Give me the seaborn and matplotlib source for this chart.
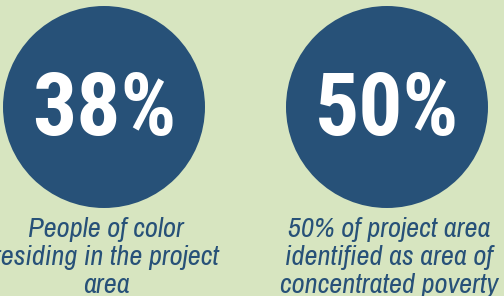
import seaborn as sns
import matplotlib.pyplot as plt
import pandas as pd

# values shown in the two circles
categories = ['people_of_color', 'concentrated_poverty']
values = [38, 50]
captions = ['People of color\nresiding in the project\narea',
            '50% of project area\nidentified as area of\nconcentrated poverty']

BG = '#d7e5c0'
BLUE = '#275178'

sns.set_style('white')
plt.rcParams['font.family'] = ['Archivo Narrow', 'Roboto Condensed', 'DejaVu Sans']

data = pd.DataFrame({'cat': categories, 'value': values, 'caption': captions})
data['x'] = range(len(data))
data['y'] = 0

fig = plt.figure(figsize=(5.04, 2.96), dpi=100, facecolor=BG)
ax = fig.add_axes([0, 0, 1, 1])
ax.set_facecolor(BG)

sns.scatterplot(data=data, x='x', y='y', s=(202 * 0.72) ** 2, color=BLUE,
                edgecolor='none', legend=False, ax=ax)

# index 0 -> 104 px, index 1 -> 387 px; y = 107 - pixel row
step = 283
ax.set_xlim(-104 / step, 1 + (504 - 387) / step)
ax.set_ylim(-(296 - 107), 107)

for _, row in data.iterrows():
    ax.text(row['x'], 107 - 135, f"{row['value']}%", color='white',
            fontsize=63, fontweight='bold', ha='center', va='baseline',
            family=['Roboto Condensed', 'DejaVu Sans'])
    for i, line in enumerate(row['caption'].split('\n')):
        ax.text(row['x'] + 0.008, 107 - 237 - 28 * i, line, color=BLUE,
                fontsize=20.5, fontstyle='italic', ha='center', va='baseline')

ax.set_axis_off()
fig.savefig('out.png', dpi=100, facecolor=BG)
